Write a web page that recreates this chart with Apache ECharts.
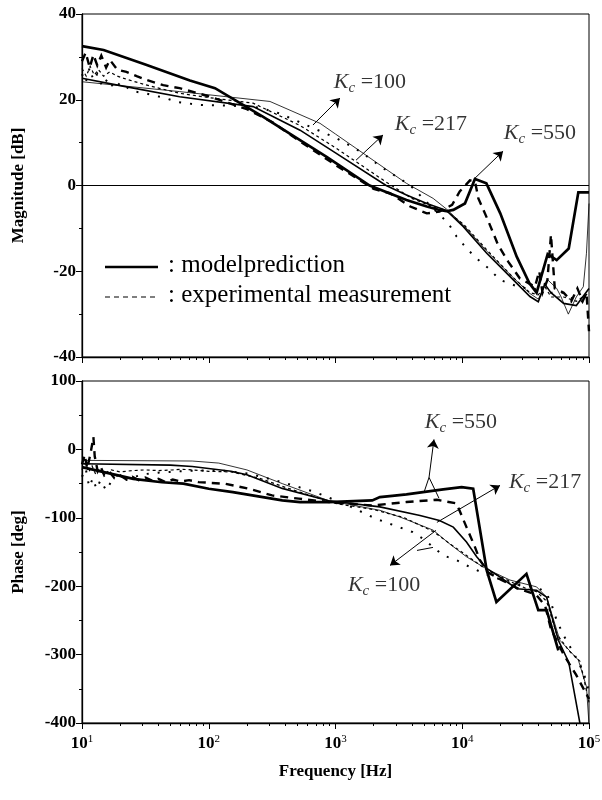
<!DOCTYPE html>
<html><head><meta charset="utf-8">
<script src="https://cdn.jsdelivr.net/npm/echarts@6/dist/echarts.min.js"></script>
<style>html,body{margin:0;padding:0;background:#fff}#c{width:602px;height:800px}</style>
</head><body><div id="c"></div>
<script>
// ---------- data (frequency in Hz, value) ----------
const magModel550 = [[10,32.5],[14.8,31.6],[31.6,28.2],[71,24.5],[112,22.7],[269,16],[525,10.6],[851,6.7],[1860,0],[3630,-3.4],[5250,-4.9],[6610,-5.7],[7500,-6.0],[8500,-5.7],[10500,-4.2],[12590,1.5],[15500,0.5],[19950,-6.5],[26900,-16.6],[33900,-22.8],[38600,-25],[47200,-16.0],[55600,-17.4],[69200,-14.7],[82400,-1.6],[100000,-1.6]];
const magExp550 = [[10,29],[10.7,31],[11.5,27.5],[12.3,30.5],[13.2,28],[14.2,30.3],[15.5,27.5],[16.6,29.3],[19,27],[22.4,26.5],[27,25.5],[32.4,24.6],[43.7,23.4],[58.9,22.7],[100,20.8],[200,17.8],[316,14.8],[525,10.3],[1000,4.8],[2000,-0.8],[2690,-1.8],[3890,-4.9],[5250,-6.5],[6610,-6.1],[8320,-4.5],[9550,-1.4],[11500,1.2],[12600,1.0],[13400,-3.0],[16100,-8.4],[19200,-13.9],[23100,-17.8],[28500,-21.7],[37500,-23.6],[40500,-20],[43000,-25],[47000,-22],[50100,-11.5],[53700,-24],[63100,-25],[72400,-27],[81000,-24],[89100,-27],[95500,-25],[100000,-34]];
const magModel217 = [[10,25],[20,23.3],[58.9,20.7],[224,18.4],[525,12.9],[1000,7.6],[2510,0],[3630,-2.2],[5250,-4.2],[7500,-5.8],[10200,-9.6],[15600,-15.8],[25300,-22.0],[34200,-25.9],[39800,-27.1],[44700,-23],[50100,-25],[63100,-27.5],[79400,-28],[89100,-26],[100000,-24]];
const magExp217 = [[10,27.3],[10.8,25.5],[11.6,27.8],[12.5,25.8],[13.5,27],[14.8,25.5],[16.6,26.5],[19,25.5],[22.4,24.8],[31.6,23.5],[58.9,21.5],[100,20.5],[224,19.2],[525,14],[1000,8.8],[2510,0.8],[4000,-3],[5890,-5],[7520,-6],[10200,-9],[15600,-15],[25300,-21.5],[34200,-25],[39800,-25.5],[44700,-23.5],[50100,-26],[63100,-26],[79400,-27],[89100,-26],[100000,-25]];
const magModel100 = [[10,24.2],[58.9,21.9],[304,19.6],[755,14.5],[1000,12],[3630,0.5],[5890,-3],[7520,-5.5],[10200,-9.2],[15600,-15.3],[25300,-21.5],[34200,-25.2],[39800,-26.5],[44000,-24],[47200,-22],[55600,-24],[60300,-26],[68700,-30],[79400,-26],[90200,-23.6],[95500,-15.8],[100000,-4.2]];
const magExp100 = [[10,26],[10.7,24],[11.5,27.5],[12.3,24.5],[13.2,26],[14.5,23],[16,25],[18,22.5],[20,24],[25,22],[31.6,21.5],[46.6,20.3],[55.8,19.5],[85,18.8],[158,18.6],[250,18.2],[363,16.8],[1023,11],[1574,7.9],[2382,4.0],[3873,0.1],[5500,-4.5],[7762,-8.8],[9016,-11.9],[10839,-14.7],[12972,-17],[16069,-19.3],[19861,-22],[27000,-23.5],[36308,-24.4],[44700,-23],[50100,-25],[63100,-25],[79400,-27],[100000,-27]];

const phaseModel550 = [[10,-26],[25.4,-43],[42.7,-48],[63,-50],[100,-57.5],[155,-62.4],[380,-74.6],[525,-77],[883,-77],[1950,-74.6],[2240,-69.7],[2800,-68],[3630,-65.8],[4900,-62.4],[7080,-58.5],[9890,-55.1],[12200,-57.5],[12600,-60],[15600,-177],[18600,-223],[32100,-182],[39800,-235],[46300,-235],[57300,-294]];
const phaseExp550 = [[10,-22],[10.5,-8],[11,-28],[11.7,-5],[12.3,18],[12.6,-10],[13.3,-32],[14,-25],[15,-38],[16.5,-33],[18,-42],[20,-38],[22.4,-44],[25,-40],[28,-45],[31.6,-41],[36,-46],[40,-43],[46,-48],[52,-44],[60,-47],[70,-45],[83,-47.8],[135,-50.3],[207,-57.5],[316,-67.3],[513,-72],[1000,-78],[1950,-82],[3630,-77],[6310,-73.6],[9016,-79],[10800,-113.6],[12600,-142.8],[13800,-162],[16000,-180],[20000,-190],[28000,-204],[38000,-212],[45000,-228],[50000,-262],[63100,-300],[79400,-330],[100000,-365]];
const phaseModel217 = [[10,-21],[50,-23],[74,-25],[150,-32],[200,-37],[380,-57],[883,-75],[2240,-84],[4645,-96.5],[6610,-104],[8500,-113.6],[10800,-135.5],[13000,-157],[15600,-174],[19900,-186.7],[26900,-203.7],[38600,-206],[46300,-216],[57300,-279],[69200,-311],[85100,-402]];
const phaseExp217 = [[10,-30],[10.6,-20],[11.3,-33],[12,-24],[12.8,-36],[13.8,-28],[15,-35],[17,-30],[20,-33],[25,-31],[31.6,-30],[40,-31],[52,-30],[60,-29],[75,-30],[100,-32],[150,-33],[250,-42],[380,-54],[700,-70],[1000,-79],[2000,-88],[3500,-100],[5890,-120],[8000,-138],[10800,-155],[15600,-176],[23800,-193],[31600,-203],[38600,-208],[46300,-222],[55600,-270],[70000,-295],[85100,-310],[100000,-370]];
const phaseModel100 = [[10,-16],[74,-17],[120,-20],[200,-30],[380,-50],[883,-75],[2240,-89],[3240,-99],[5890,-118],[7940,-138],[10800,-157],[15600,-175],[23800,-191],[38600,-201],[46300,-216],[58900,-279],[82400,-308],[95500,-347],[100000,-402]];
const phaseExp100 = [[10,-40],[10.7,-28],[11.4,-55],[12.2,-42],[13,-58],[14,-45],[15.5,-60],[17,-47],[19,-38],[22,-45],[26,-40],[31.6,-36],[40,-34],[60,-32],[80,-31],[126,-30.7],[207,-35.5],[380,-47.8],[692,-62.4],[1259,-82],[2061,-101],[3162,-113.6],[4074,-121],[4898,-130.6],[7079,-155],[9016,-162],[11482,-172],[15600,-183],[23800,-195],[33900,-200],[42000,-205],[46300,-211],[50100,-224],[55600,-250],[63100,-272],[79400,-305],[91200,-328],[97700,-347],[100000,-363]];

// annotations (data coordinates)
const kcValues = ['100', '217', '550'];
const magLabelPos = [[1871, 24.1], [5662, 14.3], [41020, 12.2]];
const magArrows = [[[664, 14.1], [1084, 20.4]], [[1452, 5.9], [2371, 11.8]], [[12590, 1.7], [20990, 8.0]]];
const phaseLabelPos = [[2415, -198.8], [44980, -48.2], [9772, 39.5]];
const phaseArrows = [[[6209, -118.4], [2692, -169.6]], [[6310, -106.7], [19860, -52.6]], [[5470, -40.9], [5984, 14.6]]];
const phaseLegs = [[[4990, -62.9], [5470, -40.9]], [[6560, -71.6], [5470, -40.9]], [[4395, -147.7], [5875, -143.3]]];

const legendNames = ['modelprediction', 'experimental measurement'];
const magTicks = { min: -40, max: 40, interval: 20 };
const phaseTicks = { min: -400, max: 100, interval: 100 };
const freqRange = { min: 10, max: 100000 };
const freqMajorTicks = [10, 100, 1000, 10000, 100000];
const freqMinorTicks = [20,30,40,50,60,70,80,90,200,300,400,500,600,700,800,900,2000,3000,4000,5000,6000,7000,8000,9000,20000,30000,40000,50000,60000,70000,80000,90000];

// ---------- styles ----------
const SERIF = 'Liberation Serif';
const styles = {
  model550: { width: 2.7, type: 'solid' },
  exp550: { width: 2.4, type: [8, 6] },
  model217: { width: 1.6, type: 'solid' },
  exp217: { width: 1.2, type: [3, 3] },
  model100: { width: 0.8, type: 'solid' },
  exp100: { width: 2, type: [2, 9] }
};

function lineSeries(data, st, idx) {
  return {
    type: 'line', data: data, xAxisIndex: idx, yAxisIndex: idx,
    showSymbol: false, symbol: 'none', silent: true, clip: true,
    lineStyle: { color: '#000', width: st.width, type: st.type, cap: 'butt', join: 'miter' },
    z: 3
  };
}

const rich = {
  k: { fontFamily: SERIF, fontStyle: 'italic', fontSize: 22, color: '#000' },
  c: { fontFamily: SERIF, fontStyle: 'italic', fontSize: 15, color: '#000', padding: [12, 0, 0, 0] },
  t: { fontFamily: SERIF, fontSize: 22, color: '#000' }
};

function annotationSeries(pos, arrows, legs, idx) {
  const ml = arrows.map(a => [{ coord: a[0], symbol: 'none' }, { coord: a[1], symbol: 'arrow' }]);
  legs.forEach(a => ml.push([{ coord: a[0], symbol: 'none' }, { coord: a[1], symbol: 'none' }]));
  return {
    type: 'scatter', xAxisIndex: idx, yAxisIndex: idx, symbolSize: 0, silent: true,
    data: pos.map((p, i) => ({ value: p, name: kcValues[i] })),
    label: { show: true, position: 'inside', formatter: p => '{k|K}{c|c}{t| =' + p.name + '}', rich: rich },
    markLine: {
      silent: true, symbolSize: 9, label: { show: false },
      lineStyle: { color: '#000', width: 1, type: 'solid' },
      emphasis: { disabled: true },
      data: ml
    }
  };
}

function xAxis(idx, showLabels) {
  return {
    gridIndex: idx, type: 'log', logBase: 10, min: freqRange.min, max: freqRange.max, position: 'bottom',
    axisLine: { show: true, onZero: false, lineStyle: { color: '#000', width: 1.3 } },
    axisTick: { show: true, length: 6, customValues: freqMajorTicks, lineStyle: { color: '#000', width: 1 } },
    splitLine: { show: false }, minorSplitLine: { show: false },
    axisLabel: {
      show: showLabels, margin: 11, showMinLabel: true, showMaxLabel: true,
      customValues: freqMajorTicks,
      formatter: v => '{b|10}{s|' + Math.round(Math.log10(v)) + '}',
      rich: {
        b: { fontFamily: SERIF, fontWeight: 'bold', fontSize: 17, color: '#000' },
        s: { fontFamily: SERIF, fontSize: 11, color: '#000', padding: [0, 0, 9, 0] }
      }
    },
    name: showLabels ? 'Frequency [Hz]' : '', nameLocation: 'middle', nameGap: 40,
    nameTextStyle: { fontFamily: SERIF, fontWeight: 'bold', fontSize: 17, color: '#000' }
  };
}
function xMinorAxis(idx) {
  return {
    gridIndex: idx, type: 'log', logBase: 10, min: freqRange.min, max: freqRange.max, position: 'bottom', offset: 0,
    axisLine: { show: false, onZero: false },
    axisTick: { show: true, length: 3, customValues: freqMinorTicks, lineStyle: { color: '#000', width: 1 } },
    axisLabel: { show: false }, splitLine: { show: false }
  };
}

function yAxis(idx, t, name) {
  return {
    gridIndex: idx, type: 'value', min: t.min, max: t.max, interval: t.interval,
    axisLine: { show: true, onZero: false, lineStyle: { color: '#000', width: 1.3 } },
    axisTick: { show: true, length: 6, lineStyle: { color: '#000', width: 1 } },
    minorTick: { show: true, splitNumber: 2, length: 3, lineStyle: { color: '#000', width: 1 } },
    splitLine: { show: false }, minorSplitLine: { show: false },
    axisLabel: { margin: 6, fontFamily: SERIF, fontWeight: 'bold', fontSize: 17, color: '#000', showMinLabel: true, showMaxLabel: true },
    name: name, nameLocation: 'middle', nameGap: 55, nameRotate: 90,
    nameTextStyle: { fontFamily: SERIF, fontWeight: 'bold', fontSize: 17, color: '#000' }
  };
}

const series = [
  lineSeries(magModel100, styles.model100, 0),
  lineSeries(magExp100, styles.exp100, 0),
  lineSeries(magModel217, styles.model217, 0),
  lineSeries(magExp217, styles.exp217, 0),
  lineSeries(magModel550, styles.model550, 0),
  lineSeries(magExp550, styles.exp550, 0),
  lineSeries(phaseModel100, styles.model100, 1),
  lineSeries(phaseExp100, styles.exp100, 1),
  lineSeries(phaseModel217, styles.model217, 1),
  lineSeries(phaseExp217, styles.exp217, 1),
  lineSeries(phaseModel550, styles.model550, 1),
  lineSeries(phaseExp550, styles.exp550, 1),
  annotationSeries(magLabelPos, magArrows, [], 0),
  annotationSeries(phaseLabelPos, phaseArrows, phaseLegs, 1)
];
// zero line in magnitude panel
series[0].markLine = {
  silent: true, symbol: 'none', label: { show: false },
  lineStyle: { color: '#000', width: 1, type: 'solid' },
  data: [{ yAxis: 0 }]
};

const legendFont = '25px "Liberation Serif"';
const chart = echarts.init(document.getElementById('c'), null, { renderer: 'canvas' });
chart.setOption({
  backgroundColor: '#fff',
  animation: false,
  grid: [
    { left: 82, top: 14, width: 507, height: 343, show: true, borderColor: '#000', borderWidth: 1, backgroundColor: 'transparent', containLabel: false, outerBoundsMode: 'none' },
    { left: 82, top: 381, width: 507, height: 342, show: true, borderColor: '#000', borderWidth: 1, backgroundColor: 'transparent', containLabel: false, outerBoundsMode: 'none' }
  ],
  xAxis: [xAxis(0, false), xAxis(1, true), xMinorAxis(0), xMinorAxis(1)],
  yAxis: [yAxis(0, magTicks, 'Magnitude [dB]'), yAxis(1, phaseTicks, 'Phase [deg]')],
  graphic: [
    { type: 'line', shape: { x1: 105, y1: 267, x2: 158, y2: 267 }, style: { stroke: '#000', lineWidth: 2.6 }, silent: true },
    { type: 'line', shape: { x1: 105, y1: 297, x2: 158, y2: 297 }, style: { stroke: '#000', lineWidth: 1.2, lineDash: [5, 4] }, silent: true },
    { type: 'text', left: 168, top: 253, style: { text: ': ' + legendNames[0], font: legendFont, fill: '#000' }, silent: true },
    { type: 'text', left: 168, top: 283, style: { text: ': ' + legendNames[1], font: legendFont, fill: '#000' }, silent: true }
  ],
  series: series
});
</script></body></html>
